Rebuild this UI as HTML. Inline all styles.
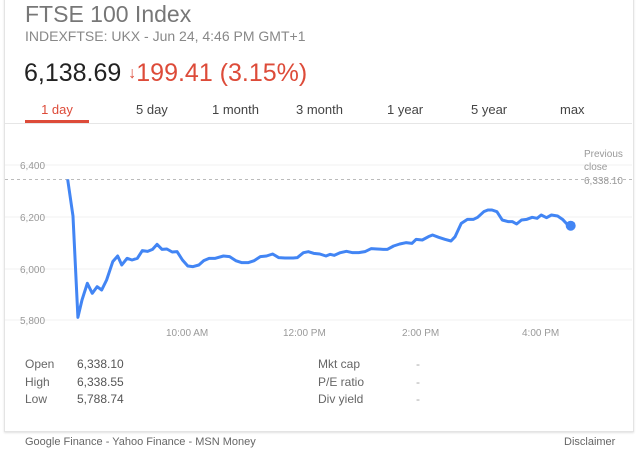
<!DOCTYPE html>
<html><head><style>
body{margin:0;width:640px;height:451px;background:#fff;font-family:"Liberation Sans",sans-serif;position:relative;overflow:hidden}
.card{position:absolute;left:4px;top:-2px;width:628px;height:432px;border:1px solid #e4e4e4;box-shadow:0 1px 2px rgba(0,0,0,.12)}
.t{position:absolute;white-space:nowrap}
</style></head><body>
<div class="card"></div>
<div class="t" style="left:25px;top:1px;font-size:23px;color:#777">FTSE 100 Index</div>
<div class="t" style="left:25px;top:28px;font-size:14px;color:#888">INDEXFTSE: UKX - Jun 24, 4:46 PM GMT+1</div>
<div class="t" style="left:24px;top:59px;font-size:25px;color:#222">6,138.69 <span style="color:#dd4b39;font-size:16px;vertical-align:3px;font-weight:bold">&#8595;</span><span style="color:#dd4b39">199.41 (3.15%)</span></div>
<div style="position:absolute;left:5px;top:95px;width:627px;height:28px;border-bottom:1px solid #e6e6e6"></div>
<div style="position:absolute;left:25px;top:120px;width:64px;height:3px;background:#dd4b39"></div>
<div class="t" style="left:25px;top:102px;width:64px;text-align:center;font-size:13px;color:#dd4b39">1 day</div>
<div class="t" style="left:136px;top:102px;font-size:13px;color:#444">5 day</div>
<div class="t" style="left:212px;top:102px;font-size:13px;color:#444">1 month</div>
<div class="t" style="left:296px;top:102px;font-size:13px;color:#444">3 month</div>
<div class="t" style="left:387px;top:102px;font-size:13px;color:#444">1 year</div>
<div class="t" style="left:471px;top:102px;font-size:13px;color:#444">5 year</div>
<div class="t" style="left:560px;top:102px;font-size:13px;color:#444">max</div>
<svg width="640" height="451" style="position:absolute;left:0;top:0">
<g stroke="#f0f0f0" stroke-width="1">
<line x1="5" x2="632" y1="165" y2="165"/><line x1="5" x2="632" y1="217" y2="217"/><line x1="5" x2="632" y1="269" y2="269"/><line x1="5" x2="632" y1="320" y2="320"/>
</g>
<line x1="5" x2="632" y1="179.5" y2="179.5" stroke="#bbb" stroke-dasharray="3,3"/>
<g font-size="10" fill="#999" font-family="Liberation Sans,sans-serif">
<text x="20" y="169">6,400</text><text x="20" y="221">6,200</text><text x="20" y="273">6,000</text><text x="20" y="324">5,800</text>
<text x="166" y="336">10:00 AM</text><text x="283" y="336">12:00 PM</text><text x="402" y="336">2:00 PM</text><text x="522" y="336">4:00 PM</text>
<text x="584" y="157">Previous</text><text x="584" y="170">close</text><text x="584" y="184">6,338.10</text>
</g>
<g transform="translate(0,130) scale(0.41,0.33333)">
<polyline fill="none" stroke="#4285f4" stroke-width="3" vector-effect="non-scaling-stroke" stroke-linejoin="round" points="165,148 178,258 190,562 200,510 213,460 225,490 237,470 248,480 260,450 275,395 287,378 297,405 310,385 322,390 335,385 347,362 360,364 372,358 383,343 395,358 407,357 420,366 432,365 445,390 458,408 470,410 485,405 497,392 510,385 525,385 545,378 560,380 575,392 590,398 605,398 620,392 635,380 650,378 665,372 680,383 695,384 715,384 725,383 740,368 752,365 765,370 780,372 795,378 805,373 815,376 830,368 845,364 860,368 875,368 890,365 905,356 920,357 935,358 945,358 960,348 975,342 990,338 1005,340 1015,328 1030,330 1045,320 1055,315 1070,322 1085,328 1100,333 1110,320 1125,280 1140,268 1155,268 1165,262 1180,245 1190,240 1200,240 1212,245 1225,270 1240,275 1250,275 1260,282 1272,270 1285,268 1298,262 1310,265 1320,255 1333,263 1345,255 1360,258 1372,268 1385,285 1392,287"/>
</g>
<circle cx="570.7" cy="225.7" r="5" fill="#4285f4"/>
</svg>
<div class="t" style="left:25px;top:356px;font-size:12px;color:#666;line-height:17.5px">Open<br>High<br>Low</div>
<div class="t" style="left:77px;top:356px;font-size:12px;color:#555;line-height:17.5px">6,338.10<br>6,338.55<br>5,788.74</div>
<div class="t" style="left:318px;top:356px;font-size:12px;color:#666;line-height:17.5px">Mkt cap<br>P/E ratio<br>Div yield</div>
<div class="t" style="left:416px;top:356px;font-size:12px;color:#aaa;line-height:17.5px">-<br>-<br>-</div>
<div class="t" style="left:25px;top:436px;font-size:11px;color:#666">Google Finance - Yahoo Finance - MSN Money</div>
<div class="t" style="left:564px;top:436px;font-size:11px;color:#666">Disclaimer</div>
</body></html>
